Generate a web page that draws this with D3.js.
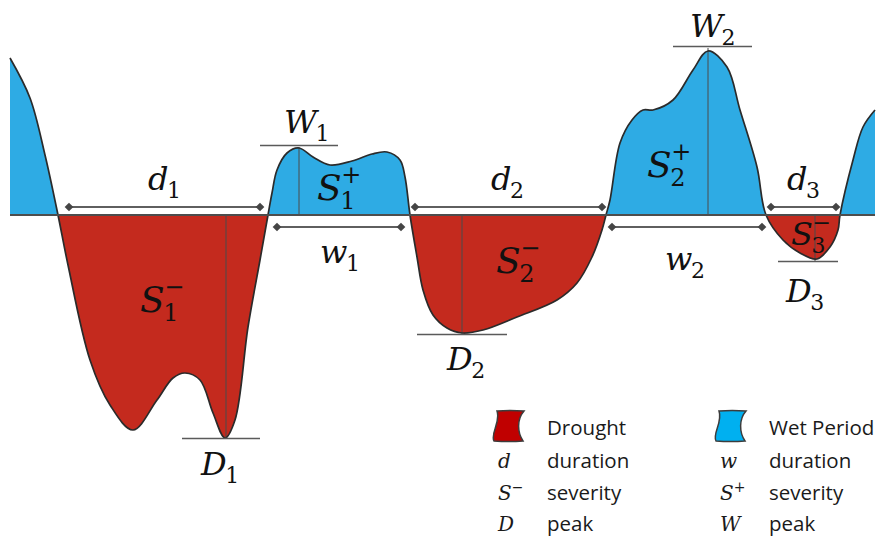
<!DOCTYPE html>
<html><head><meta charset="utf-8">
<script src="https://cdn.jsdelivr.net/npm/d3@7"></script>
<style>body{margin:0;background:#fff}svg{display:block}</style>
</head><body>
<svg id="chart" width="880" height="536"></svg>
<script>
// ---- data (time index t, standardized index value v) ----
const curveT = [0, 2, 3.5, 4.8, 5.8, 8, 10, 12.3, 14.7, 16.3, 17.5, 19, 20.3, 21.5, 22.5, 23.8, 25, 25.8,
  26.2, 26.7, 27.7, 28.9, 30.3, 32, 34.2, 36.2, 37.7, 39, 39.5, 40,
  40.7, 41.3, 42.3, 43.7, 45.2, 47.3, 50.7, 54.7, 56.7, 58.2, 59.2, 59.6,
  60, 61, 62.2, 63.3, 64.3, 66.3, 68.3, 69.8, 71.7, 73, 74.7, 75.6,
  77.3, 79, 80.7, 82, 82.8, 83, 84.3, 85.3, 86.5];
const curveV = [15.7, 11.7, 6, 0, -5, -14.5, -19, -21.5, -18.5, -16.3, -15.8, -16.5, -19.8, -22.3, -20.5, -11.2, -4.5, 0,
  2.2, 4.5, 6.2, 6.7, 5.8, 5, 5.4, 6.1, 6.3, 5.5, 3.8, 0,
  -4.2, -7.5, -10, -11.3, -11.8, -11.5, -10.2, -8.5, -6.8, -4.2, -1.5, 0,
  1.5, 7.2, 9.5, 10.5, 10.5, 11.5, 14.5, 16.4, 14.8, 10.5, 4.8, 0,
  -2.5, -3.8, -4.4, -3.2, -1.5, 0, 5.5, 8.8, 10.5];

// event durations (start t, end t)
const droughtStart = [5.9, 40.5, 76.1];
const droughtEnd   = [25, 59.2, 82.6];
const wetStart     = [26.7, 60.2];
const wetEnd       = [39.1, 75.2];

// event peaks (t, v)
const droughtPeakT = [21.6, 45.2, 80.5];
const droughtPeakV = [-22.3, -11.9, -4.6];
const wetPeakT     = [28.9, 69.8];
const wetPeakV     = [6.8, 16.7];

// legend
const legendSymbols = [["d", "duration"], ["S", "severity"], ["D", "peak"]];
const legendSymbolsWet = [["w", "duration"], ["S", "severity"], ["W", "peak"]];

// ---- layout ----
const svg = d3.select("#chart");
const x = d3.scaleLinear().domain([0, 87]).range([10, 880]);
const y = d3.scaleLinear().domain([-25, 20]).range([465, 15]);
const RED = "#c42a1e", BLUE = "#2eabe4";

const pts = curveT.map((t, i) => ({t, v: curveV[i]}));
const curve = d3.curveCatmullRom.alpha(0.5);
const area = d3.area().x(d => x(d.t)).y0(y(0)).y1(d => y(d.v)).curve(curve);
const line = d3.line().x(d => x(d.t)).y(d => y(d.v)).curve(curve);

const defs = svg.append("defs");
defs.append("clipPath").attr("id", "above").append("rect")
  .attr("x", 0).attr("y", 0).attr("width", 880).attr("height", y(0));
defs.append("clipPath").attr("id", "below").append("rect")
  .attr("x", 0).attr("y", y(0)).attr("width", 880).attr("height", 536 - y(0));

svg.append("path").attr("d", area(pts)).attr("fill", BLUE).attr("clip-path", "url(#above)");
svg.append("path").attr("d", area(pts)).attr("fill", RED).attr("clip-path", "url(#below)");

// peak verticals
const peakG = svg.append("g").attr("stroke", "#4a4a4a").attr("stroke-width", 1);
droughtPeakT.forEach((t, i) => peakG.append("line").attr("x1", x(t)).attr("x2", x(t)).attr("y1", y(0)).attr("y2", y(droughtPeakV[i])));
wetPeakT.forEach((t, i) => peakG.append("line").attr("x1", x(t)).attr("x2", x(t)).attr("y1", y(0)).attr("y2", y(wetPeakV[i])));

// curve outline
svg.append("path").attr("d", line(pts)).attr("fill", "none").attr("stroke", "#2b2b2b").attr("stroke-width", 1.7);

// baseline
svg.append("line").attr("x1", x(0)).attr("x2", x(86.5)).attr("y1", y(0)).attr("y2", y(0))
  .attr("stroke", "#4d4d4d").attr("stroke-width", 2);

// peak horizontal ticks
const peakSpanL = [4.4, 4.5, 3.7], peakSpanR = [3.4, 4.5, 2.3];
const wetSpanL = [3.9, 3.5], wetSpanR = [3.9, 4.4];
const hG = svg.append("g").attr("stroke", "#5a5a5a").attr("stroke-width", 1.5);
droughtPeakT.forEach((t, i) => hG.append("line").attr("x1", x(t - peakSpanL[i])).attr("x2", x(t + peakSpanR[i]))
  .attr("y1", y(droughtPeakV[i]) + 0.5).attr("y2", y(droughtPeakV[i]) + 0.5));
wetPeakT.forEach((t, i) => hG.append("line").attr("x1", x(t - wetSpanL[i])).attr("x2", x(t + wetSpanR[i]))
  .attr("y1", y(wetPeakV[i]) - 1.5).attr("y2", y(wetPeakV[i]) - 1.5));

// duration arrows
const diamond = d3.symbol(d3.symbolSquare, 38)();
function durArrow(t0, t1, yy) {
  const g = svg.append("g");
  g.append("line").attr("x1", x(t0)).attr("x2", x(t1)).attr("y1", yy).attr("y2", yy)
    .attr("stroke", "#5f5f5f").attr("stroke-width", 1.8);
  [t0, t1].forEach(t => g.append("path").attr("d", diamond)
    .attr("transform", `translate(${x(t)},${yy}) rotate(45)`).attr("fill", "#454545"));
}
droughtStart.forEach((t, i) => durArrow(t, droughtEnd[i], y(0) - 8));
wetStart.forEach((t, i) => durArrow(t, wetEnd[i], y(0) + 12));

// labels
const labels = [
  {m: "d", sub: "1", t: 13.8, v: 2.5, fs: 32},
  {m: "W", sub: "1", t: 27.4, v: 8.2, fs: 32},
  {m: "S", sub: "1", sup: "+", t: 30.7, v: 1.5, fs: 36},
  {m: "w", sub: "1", t: 31, v: -4.8, fs: 32},
  {m: "S", sub: "1", sup: "\u2212", t: 13, v: -9.7, fs: 36},
  {m: "D", sub: "1", t: 19.1, v: -26, fs: 32},
  {m: "d", sub: "2", t: 48.1, v: 2.5, fs: 32},
  {m: "S", sub: "2", sup: "\u2212", t: 48.6, v: -5.8, fs: 36},
  {m: "D", sub: "2", t: 43.7, v: -15.5, fs: 32},
  {m: "W", sub: "2", t: 68, v: 17.8, fs: 32},
  {m: "S", sub: "2", sup: "+", t: 63.7, v: 3.8, fs: 36},
  {m: "w", sub: "2", t: 65.5, v: -5.5, fs: 32},
  {m: "d", sub: "3", t: 77.7, v: 2.5, fs: 32},
  {m: "S", sub: "3", sup: "\u2212", t: 78.1, v: -3.0, fs: 32},
  {m: "D", sub: "3", t: 77.6, v: -8.7, fs: 32}
];
const lg = svg.append("g").attr("fill", "#111");
labels.forEach(L => {
  const x0 = x(L.t), y0 = y(L.v);
  const mt = lg.append("text").attr("x", x0).attr("y", y0)
    .attr("font-family", "DejaVu Serif").attr("font-style", "italic").attr("font-size", L.fs).text(L.m);
  const w = mt.node().getComputedTextLength();
  const sfs = Math.round(L.fs * 0.68);
  lg.append("text").attr("x", x0 + w - 1.5).attr("y", y0 + L.fs * 0.26)
    .attr("font-family", "DejaVu Serif").attr("font-size", sfs).text(L.sub);
  if (L.sup) lg.append("text").attr("x", x0 + w - 0.5).attr("y", y0 - L.fs * 0.47)
    .attr("font-family", "DejaVu Serif").attr("font-size", sfs).text(L.sup);
});

// legend
const iconPath = "M5,1 Q18,0 32,1 C25,9 25,22 31,31 Q17,32 2,31 C-2,24 9,12 5,1 Z";
function legendBlock(x0, iconColor, title, rows, sup) {
  const g = svg.append("g");
  g.append("path").attr("d", iconPath).attr("transform", `translate(${x0},410)`)
    .attr("fill", iconColor).attr("stroke", "#3c3c3c").attr("stroke-width", 1.5);
  g.append("text").attr("x", x0 + 55).attr("y", 435).attr("font-family", "Open Sans")
    .attr("font-size", 20.5).attr("fill", "#1a1a1a").text(title);
  const ys = [468, 500, 531];
  rows.forEach((r, i) => {
    const st = g.append("text").attr("x", x0 + 6).attr("y", ys[i]).attr("font-family", "DejaVu Serif")
      .attr("font-style", "italic").attr("font-size", 20).attr("fill", "#1a1a1a").text(r[0]);
    if (i === 1) st.append("tspan").attr("font-style", "normal").attr("font-size", 14).attr("dy", -8).text(sup);
    g.append("text").attr("x", x0 + 55).attr("y", ys[i]).attr("font-family", "Open Sans")
      .attr("font-size", 20.5).attr("fill", "#1a1a1a").text(r[1]);
  });
}
legendBlock(492, "#c00000", "Drought", legendSymbols, "\u2212");
legendBlock(714, "#00b0f0", "Wet Period", legendSymbolsWet, "+");
</script>
</body></html>
